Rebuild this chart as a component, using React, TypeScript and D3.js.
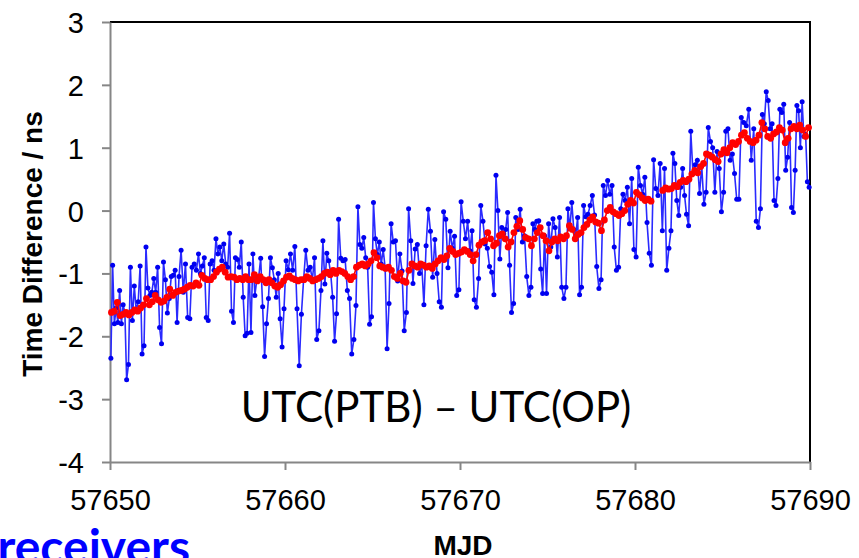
import React, { useEffect, useRef } from 'react'
import * as d3 from 'd3'

const MJD_START = 57650
const xTicks = [57650, 57660, 57670, 57680, 57690]
const yTicks = [3, 2, 1, 0, -1, -2, -3, -4]

// one row per day (MJD 57650 ... 57689), samples spread evenly over the day
const blueDays: number[][] = [
  [-2.35, -0.87, -1.8, -1.55, -1.78, -1.27, -1.8, -1.5, -1.62, -2.69],
  [-2.45, -0.9, -1.75, -1.2, -1.6, -1.45, -0.88, -2.28, -2.15],
  [-0.58, -1.23, -1.35, -1.3, -1.08, -1.3, -0.9, -1.86, -2.12],
  [-0.82, -1.1, -1.63, -1.4, -1.05, -1.03, -0.95, -1.78, -1.05],
  [-0.63, -1.3, -0.85, -1.7, -1.72, -0.9, -0.85, -0.95],
  [-0.69, -1.0, -0.88, -0.75, -1.7, -1.75, -0.85, -0.8, -0.95],
  [-0.45, -0.69, -0.58, -0.8, -0.53, -0.85, -0.9, -0.36, -1.6],
  [-1.78, -0.75, -0.78, -0.9, -0.5, -1.38, -1.99, -1.95, -0.85],
  [-1.94, -0.69, -1.35, -1.1, -1.05, -0.76, -1.53, -2.32, -1.8],
  [-1.4, -0.75, -0.91, -1.1, -1.38, -1.0, -1.72, -2.17, -1.56],
  [-0.8, -0.94, -0.69, -0.95, -0.57, -1.56, -2.47, -1.65],
  [-1.1, -0.63, -0.95, -0.9, -1.1, -0.75, -2.05, -1.91],
  [-1.27, -0.48, -1.17, -0.68, -0.8, -1.0, -1.38, -2.08, -1.64],
  [-0.14, -0.76, -0.8, -0.78, -1.27, -1.4, -2.28, -2.05],
  [-1.51, 0.06, -0.54, -0.6, -0.43, -0.75, -0.9, -1.81, -1.69],
  [0.13, -0.45, -0.7, -0.5, -0.85, -0.62, -0.91, -2.2, -1.48],
  [-0.21, -0.5, -0.48, -1.12, -0.69, -0.96, -1.91, -1.62],
  [0.03, -0.48, -1.16, -0.61, -0.54, -1.0, -0.85, -1.5],
  [-0.56, 0.02, -0.33, -1.06, -0.46, -1.0, -1.45, -1.54],
  [-0.02, -0.14, -0.91, -0.33, -0.6, -0.41, -1.35, -1.26],
  [0.14, -0.17, -0.45, -0.17, -0.64, -0.32, -1.42, -1.54],
  [-1.08, 0.08, -0.17, -0.53, -0.6, -0.89, -0.98, -1.34],
  [0.56, 0.0, -0.77, -0.27, -0.37, -0.3, -0.03, -0.87, -1.62],
  [-1.48, -0.11, -0.3, 0.02, -0.5, -0.4, -1.05, -1.35],
  [-1.22, -0.21, -0.3, -0.17, -0.16, -0.93, -1.32, -0.4, -1.32],
  [-0.21, -0.58, -0.13, -0.27, -0.74, -0.11, -1.22, -1.4],
  [-1.22, 0.03, -0.29, 0.13, -0.3, -0.4, -0.11, -1.34, -1.22],
  [0.08, -0.1, -0.06, 0.08, 0.24, -0.07, -0.89, -1.24],
  [-1.1, 0.4, 0.24, 0.48, 0.26, 0.4, -0.58, -0.95],
  [-0.9, 0.03, 0.26, 0.16, 0.37, -0.21, 0.51, -0.62],
  [-0.74, 0.69, 0.4, 0.26, 0.53, -0.19, -0.68, -0.87],
  [0.81, 0.35, 0.24, 0.75, -0.32, 0.67, -0.95, -0.6],
  [-0.32, 0.91, 0.75, 0.16, -0.08, 0.37, 0.67, 0.24, -0.06],
  [-0.24, 1.26, 0.59, 0.73, 0.8, 0.27, 0.71, 0.1],
  [0.29, 1.32, 1.1, 1.0, 0.29, 0.94, 0.67, -0.02],
  [0.29, 1.26, 1.3, 0.8, 0.9, 0.59, 0.18, 0.18],
  [1.48, 1.4, 1.35, 1.61, 0.8, 1.3, -0.17],
  [-0.27, 0.03, 1.53, 1.38, 1.89, 1.75, 1.3, 1.38, 0.16],
  [0.08, 0.51, 1.61, 1.56, 1.69, 0.64, 0.85, 1.4, 0.05],
  [-0.03, 0.64, 1.67, 1.59, 1.0, 1.73, 1.18, 1.21, 0.46, 0.37],
]

const redDays: (number | null)[][] = [
  [-1.62, -1.6, -1.46, -1.67, -1.65, -1.62],
  [-1.66, -1.62, -1.58, -1.6, -1.55, -1.5],
  [-1.4, -1.5, -1.45, -1.35, -1.42, -1.46],
  [-1.44, -1.38, -1.25, -1.35, -1.3, -1.28],
  [-1.27, -1.25, -1.22, -1.19, -1.2, -1.15],
  [-1.19, -1.03, -1.08, -1.1, -1.1, -1.05],
  [-0.98, -0.93, -0.9, -0.98, -1.06, -1.05],
  [-1.06, -1.1, -1.08, -1.1, -1.05, -1.1],
  [-1.1, -1.02, -1.12, -1.05, -1.1, -1.15],
  [-1.1, -1.15, -1.2, -1.22, -1.18, -1.12],
  [-1.06, -1.04, -1.08, -1.1, -1.12, -1.1],
  [-1.1, -1.05, -1.08, -1.12, -1.1, -1.08],
  [-1.05, -1.0, -0.98, -1.02, -0.95, -1.0],
  [-0.95, -0.97, -1.0, -1.05, -1.1, -1.05],
  [-0.9, -0.87, -0.85, -0.88, -0.85, -0.8],
  [-0.67, -0.75, -0.88, -0.9, -0.92, -0.9],
  [-0.95, -1.05, -1.08, -1.0, -1.12, -1.14],
  [-0.95, -0.85, -0.88, -0.9, -0.85, -0.87],
  [-0.9, -0.88, -0.92, -0.85, -0.8, -0.75],
  [-0.78, -0.72, -0.6, -0.65, -0.7, -0.68],
  [-0.66, -0.62, -0.65, -0.7, -0.8, -0.7],
  [-0.55, -0.5, -0.48, -0.35, -0.45, -0.56],
  [-0.52, -0.4, -0.37, -0.45, -0.58, -0.5],
  [-0.35, -0.25, -0.16, -0.3, -0.43, -0.45],
  [-0.56, -0.45, -0.35, -0.27, -0.4, -0.48],
  [-0.64, -0.5, -0.45, -0.48, -0.42, -0.45],
  [-0.4, -0.24, -0.3, -0.45, -0.38, -0.35],
  [-0.27, -0.22, -0.15, -0.1, -0.18, -0.2],
  [-0.32, -0.15, 0.0, 0.05, -0.02, -0.05],
  [-0.08, -0.05, 0.0, 0.1, 0.16, 0.12],
  [0.29, 0.25, 0.2, 0.16, 0.18, 0.15],
  [null, null, null, 0.32, 0.36, 0.34],
  [0.35, 0.4, 0.38, 0.45, 0.48, 0.46],
  [0.5, 0.58, 0.64, 0.6, 0.7, 0.75],
  [0.9, 0.88, 0.85, 0.81, 0.78, 0.9],
  [0.97, 0.92, 1.0, 1.08, 1.05, 1.1],
  [1.2, 1.24, 1.15, 1.1, 1.08, 1.12],
  [1.2, 1.4, 1.3, 1.18, 1.15, 1.22],
  [1.25, 1.32, 1.28, 1.08, 1.15, 1.3],
  [1.34, 1.3, 1.36, 1.28, 1.18, 1.32],
]

type Pt = { mjd: number; v: number | null }

const toPoints = (rows: (number | null)[][]): Pt[] => {
  const out: Pt[] = []
  rows.forEach((row, d) => row.forEach((v, i) => out.push({ mjd: MJD_START + d + (i + 0.5) / row.length, v })))
  return out
}

const W = 859
const H = 558
const FONT = "'Liberation Sans', Arial, sans-serif"
const LABEL_FONT = "Lato, 'Open Sans', sans-serif"

export default function App() {
  const svgRef = useRef<SVGSVGElement>(null)

  useEffect(() => {
    const svg = d3.select(svgRef.current)
    svg.selectAll('*').remove()

    const x = d3.scaleLinear().domain([57650, 57690]).range([110, 810])
    const y = d3.scaleLinear().domain([-4, 3]).range([462, 22])

    // plot border (top / right in black)
    svg.append('path')
      .attr('d', `M${x(57650)},${y(3)}H${x(57690)}V${y(-4)}`)
      .attr('fill', 'none').attr('stroke', '#000').attr('stroke-width', 2)

    // axes, plain hyphen for negatives like the original
    const fmt = (d: d3.NumberValue) => String(d)
    const yAxis = svg.append('g')
      .attr('transform', `translate(${x(57650)},0)`)
      .call(d3.axisLeft(y).tickValues(yTicks).tickSize(8).tickSizeOuter(0).tickFormat(fmt))
    const xAxis = svg.append('g')
      .attr('transform', `translate(0,${y(-4)})`)
      .call(d3.axisBottom(x).tickValues(xTicks).tickSize(8).tickSizeOuter(0).tickFormat(fmt))
    ;[yAxis, xAxis].forEach(g => {
      g.select('.domain').attr('stroke', '#868686').attr('stroke-width', 2)
      g.selectAll('.tick line').attr('stroke', '#868686').attr('stroke-width', 2)
      g.selectAll('.tick text').attr('fill', '#000').style('font-family', FONT).style('font-size', '29px')
    })
    yAxis.selectAll('.tick text').attr('x', -26).attr('dy', '0.36em')
    xAxis.selectAll('.tick text').attr('y', 27).attr('dy', '0.71em')

    const blue = toPoints(blueDays)
    const red = toPoints(redDays)
    const line = d3.line<Pt>()
      .defined(d => d.v !== null)
      .x(d => x(d.mjd))
      .y(d => y(d.v as number))

    svg.append('path').datum(blue).attr('d', line)
      .attr('fill', 'none').attr('stroke', '#2a2aff').attr('stroke-width', 1.6)
    svg.append('g').selectAll('circle').data(blue).enter().append('circle')
      .attr('cx', d => x(d.mjd)).attr('cy', d => y(d.v as number)).attr('r', 2.5)
      .attr('fill', '#0000f0')

    const redPts = red.filter(d => d.v !== null)
    svg.append('path').datum(red).attr('d', line)
      .attr('fill', 'none').attr('stroke', '#ff0000').attr('stroke-width', 1.6)
    svg.append('g').selectAll('circle').data(redPts).enter().append('circle')
      .attr('cx', d => x(d.mjd)).attr('cy', d => y(d.v as number)).attr('r', 3.4)
      .attr('fill', '#ff0000')

    // titles
    svg.append('text')
      .attr('transform', `translate(42,${(y(3) + y(-4)) / 2 + 2}) rotate(-90)`)
      .attr('text-anchor', 'middle')
      .style('font-family', FONT).style('font-size', '28px').style('font-weight', 'bold')
      .text('Time Difference / ns')
    svg.append('text')
      .attr('x', 463).attr('y', 555)
      .attr('text-anchor', 'middle')
      .style('font-family', FONT).style('font-size', '28px').style('font-weight', 'bold')
      .text('MJD')
    svg.append('text')
      .attr('x', 436).attr('y', 422)
      .attr('text-anchor', 'middle')
      .style('font-family', LABEL_FONT).style('font-size', '42px')
      .text('UTC(PTB) – UTC(OP)')
    svg.append('text')
      .attr('x', 190).attr('y', 564)
      .attr('text-anchor', 'end')
      .attr('fill', '#0000ff')
      .style('font-family', LABEL_FONT).style('font-size', '48px').style('font-weight', 'bold')
      .text('receivers')
  }, [])

  return (
    <svg ref={svgRef} width={W} height={H} style={{ position: 'absolute', left: 0, top: 0, background: '#fff' }} />
  )
}
